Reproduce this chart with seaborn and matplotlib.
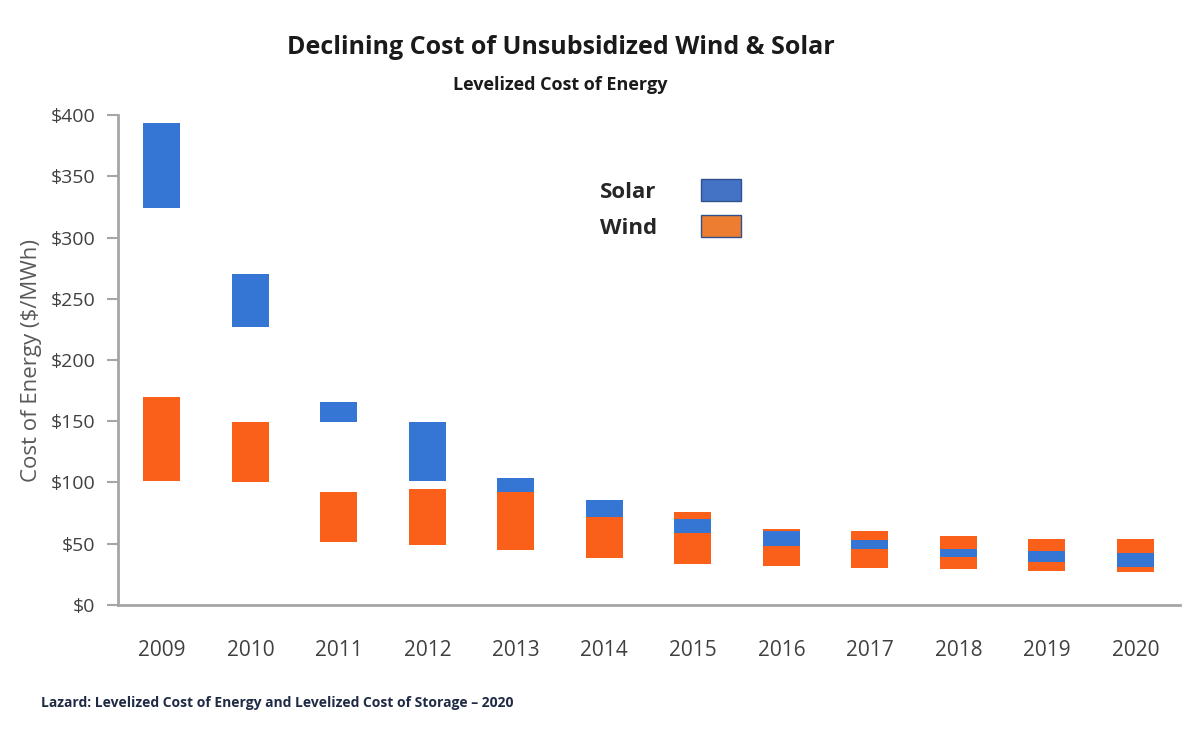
# Declining cost of unsubsidized wind & solar (Lazard LCOE ranges)
import matplotlib
matplotlib.use('Agg')
import matplotlib.pyplot as plt
import matplotlib.patches as mpatches
import seaborn as sns
import pandas as pd

years = ['2009', '2010', '2011', '2012', '2013', '2014',
         '2015', '2016', '2017', '2018', '2019', '2020']
solar_low = [324, 227, 149, 101, 92, 72, 59, 48, 46, 39, 35, 31]
solar_high = [394, 270, 166, 149, 104, 86, 70, 60, 53, 46, 44, 42]
wind_low = [101, 100, 51, 49, 45, 38, 33, 32, 30, 29, 28, 27]
wind_high = [170, 149, 92, 95, 95, 82, 76, 62, 60, 56, 54, 54]

solar = pd.DataFrame({'Year': years, 'low': solar_low,
                      'span': [h - l for h, l in zip(solar_high, solar_low)]})
wind = pd.DataFrame({'Year': years, 'low': wind_low,
                     'span': [h - l for h, l in zip(wind_high, wind_low)]})

sns.set_style('white')
plt.rcParams['font.family'] = ['Open Sans', 'DejaVu Sans']

fig = plt.figure(figsize=(12, 7.34), dpi=100)
ax = fig.add_axes([0.098, 0.176, 0.885, 0.667])

sns.barplot(data=wind, x='Year', y='span', bottom=wind['low'], color='#fa6019',
            saturation=1, width=0.42, linewidth=0, ax=ax, errorbar=None, zorder=2)
sns.barplot(data=solar, x='Year', y='span', bottom=solar['low'], color='#3575d3',
            saturation=1, width=0.42, linewidth=0, ax=ax, errorbar=None, zorder=3)

ax.set_ylim(0, 400)
ax.set_xlim(-0.5, 11.5)
ax.set_yticks(range(0, 401, 50))
ax.set_yticklabels([f'${v}' for v in range(0, 401, 50)])
ax.set_xlabel('')
ax.set_ylabel('Cost of Energy ($/MWh)', fontsize=16, color='#595959', labelpad=6)

for side in ['top', 'right']:
    ax.spines[side].set_visible(False)
for side in ['left', 'bottom']:
    ax.spines[side].set_color('#a6a6a6')
    ax.spines[side].set_linewidth(2)

ax.tick_params(axis='y', length=8, width=1.5, color='#a6a6a6', labelsize=14,
               labelcolor='#404040', left=True, pad=8)
ax.tick_params(axis='x', length=0, labelsize=15, labelcolor='#404040', pad=25)

handles = [mpatches.Patch(facecolor='#4472c4', edgecolor='#2f528f'),
           mpatches.Patch(facecolor='#ed7d31', edgecolor='#2f528f')]
ax.legend(handles, ['Solar', 'Wind'], markerfirst=False, frameon=False,
          loc='upper left', bbox_to_anchor=(0.435, 0.91),
          prop={'size': 16, 'weight': 'bold'}, handlelength=1.8,
          handleheight=1.15, handletextpad=2.0, labelspacing=0.55)

fig.text(0.467, 0.935, 'Declining Cost of Unsubsidized Wind & Solar',
         ha='center', va='center', fontsize=18, fontweight='bold', color='#1a1a1a')
fig.text(0.467, 0.884, 'Levelized Cost of Energy',
         ha='center', va='center', fontsize=13, fontweight='bold', color='#1a1a1a')
fig.text(0.034, 0.042, 'Lazard: Levelized Cost of Energy and Levelized Cost of Storage \u2013 2020',
         ha='left', va='center', fontsize=10, fontweight='bold', color='#1f2a44')

fig.savefig('out.png', dpi=100)
